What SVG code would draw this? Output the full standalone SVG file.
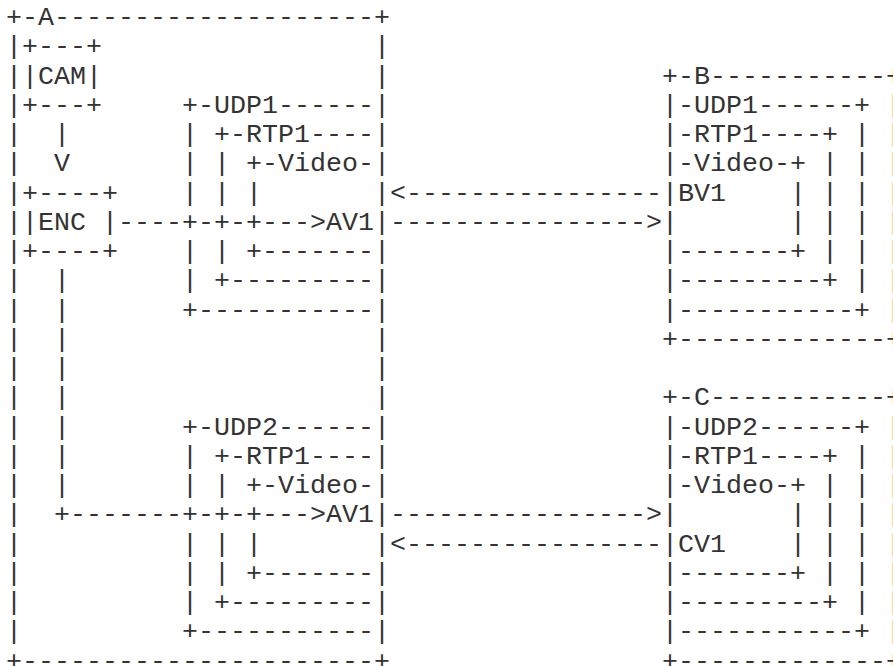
<svg xmlns="http://www.w3.org/2000/svg" width="893" height="666" viewBox="0 0 893 666">
<style>
text { font-family: "Liberation Mono", "DejaVu Sans Mono", monospace; font-size: 26.667px; fill: #333; white-space: pre; }
</style>
<rect width="893" height="666" fill="#fff"/>
<g id="A">
<text x="6" y="25">+-A--------------------+</text>
<text x="6 6 6 6 6 6 6 6 6 6 6 6 6 6 6 6 6 6 6 6 6" y="54.25 83.5 112.75 142 171.25 200.5 229.75 259 288.25 317.5 346.75 376 405.25 434.5 463.75 493 522.25 551.5 580.75 610 639.25">|||||||||||||||||||||</text>
<text x="374 374 374 374 374 374 374 374 374 374 374 374 374 374 374 374 374 374 374 374 374" y="54.25 83.5 112.75 142 171.25 200.5 229.75 259 288.25 317.5 346.75 376 405.25 434.5 463.75 493 522.25 551.5 580.75 610 639.25">|||||||||||||||||||||</text>
<text x="6" y="668.5">+----------------------+</text>
</g>
<g id="CAM">
<text x="22" y="54.25">+---+</text>
<text x="22" y="83.5">|CAM|</text>
<text x="22" y="112.75">+---+</text>
</g>
<g id="ENC">
<text x="22" y="200.5">+----+</text>
<text x="22" y="229.75">|ENC |</text>
<text x="22" y="259">+----+</text>
</g>
<g id="A_UDP1">
<text x="182" y="112.75">+-UDP1------</text>
<text x="182 182 182 182 182" y="142 171.25 200.5 259 288.25">|||||</text>
<text x="182" y="317.5">+-----------</text>
</g>
<g id="A_RTP1_1">
<text x="214" y="142">+-RTP1----</text>
<text x="214 214 214" y="171.25 200.5 259">|||</text>
<text x="214" y="288.25">+---------</text>
</g>
<g id="A_Video_1">
<text x="246" y="171.25">+-Video-</text>
<text x="246" y="200.5">|</text>
<text x="326" y="229.75">AV1</text>
<text x="246" y="259">+-------</text>
</g>
<g id="A_UDP2">
<text x="182" y="434.5">+-UDP2------</text>
<text x="182 182 182 182 182" y="463.75 493 551.5 580.75 610">|||||</text>
<text x="182" y="639.25">+-----------</text>
</g>
<g id="A_RTP1_2">
<text x="214" y="463.75">+-RTP1----</text>
<text x="214 214 214" y="493 551.5 580.75">|||</text>
<text x="214" y="610">+---------</text>
</g>
<g id="A_Video_2">
<text x="246" y="493">+-Video-</text>
<text x="246" y="551.5">|</text>
<text x="326" y="522.25">AV1</text>
<text x="246" y="580.75">+-------</text>
</g>
<g id="B">
<text x="662" y="83.5">+-B-----------+</text>
<text x="662 662 662 662 662 662 662 662" y="112.75 142 171.25 200.5 229.75 259 288.25 317.5">||||||||</text>
<text x="886 886 886 886 886 886 886 886" y="112.75 142 171.25 200.5 229.75 259 288.25 317.5">||||||||</text>
<text x="662" y="346.75">+-------------+</text>
</g>
<g id="B_UDP1">
<text x="678" y="112.75">-UDP1------+</text>
<text x="854 854 854 854 854 854" y="142 171.25 200.5 229.75 259 288.25">||||||</text>
<text x="678" y="317.5">-----------+</text>
</g>
<g id="B_RTP1">
<text x="678" y="142">-RTP1----+</text>
<text x="822 822 822 822" y="171.25 200.5 229.75 259">||||</text>
<text x="678" y="288.25">---------+</text>
</g>
<g id="B_Video">
<text x="678" y="171.25">-Video-+</text>
<text x="790 790" y="200.5 229.75">||</text>
<text x="678" y="200.5">BV1</text>
<text x="678" y="259">-------+</text>
</g>
<g id="C">
<text x="662" y="405.25">+-C-----------+</text>
<text x="662 662 662 662 662 662 662 662" y="434.5 463.75 493 522.25 551.5 580.75 610 639.25">||||||||</text>
<text x="886 886 886 886 886 886 886 886" y="434.5 463.75 493 522.25 551.5 580.75 610 639.25">||||||||</text>
<text x="662" y="668.5">+-------------+</text>
</g>
<g id="C_UDP2">
<text x="678" y="434.5">-UDP2------+</text>
<text x="854 854 854 854 854 854" y="463.75 493 522.25 551.5 580.75 610">||||||</text>
<text x="678" y="639.25">-----------+</text>
</g>
<g id="C_RTP1">
<text x="678" y="463.75">-RTP1----+</text>
<text x="822 822 822 822" y="493 522.25 551.5 580.75">||||</text>
<text x="678" y="610">---------+</text>
</g>
<g id="C_Video">
<text x="678" y="493">-Video-+</text>
<text x="790 790" y="522.25 551.5">||</text>
<text x="678" y="551.5">CV1</text>
<text x="678" y="580.75">-------+</text>
</g>
<g id="connectors">
<text x="54" y="142">|</text>
<text x="54" y="171.25">V</text>
<text x="118" y="229.75">----+-+-+---&gt;</text>
<text x="54 54 54 54 54 54 54 54" y="288.25 317.5 346.75 376 405.25 434.5 463.75 493">||||||||</text>
<text x="54" y="522.25">+-------+-+-+---&gt;</text>
<text x="390" y="200.5">&lt;----------------</text>
<text x="390" y="229.75">----------------&gt;</text>
<text x="390" y="522.25">----------------&gt;</text>
<text x="390" y="551.5">&lt;----------------</text>
</g>
</svg>
